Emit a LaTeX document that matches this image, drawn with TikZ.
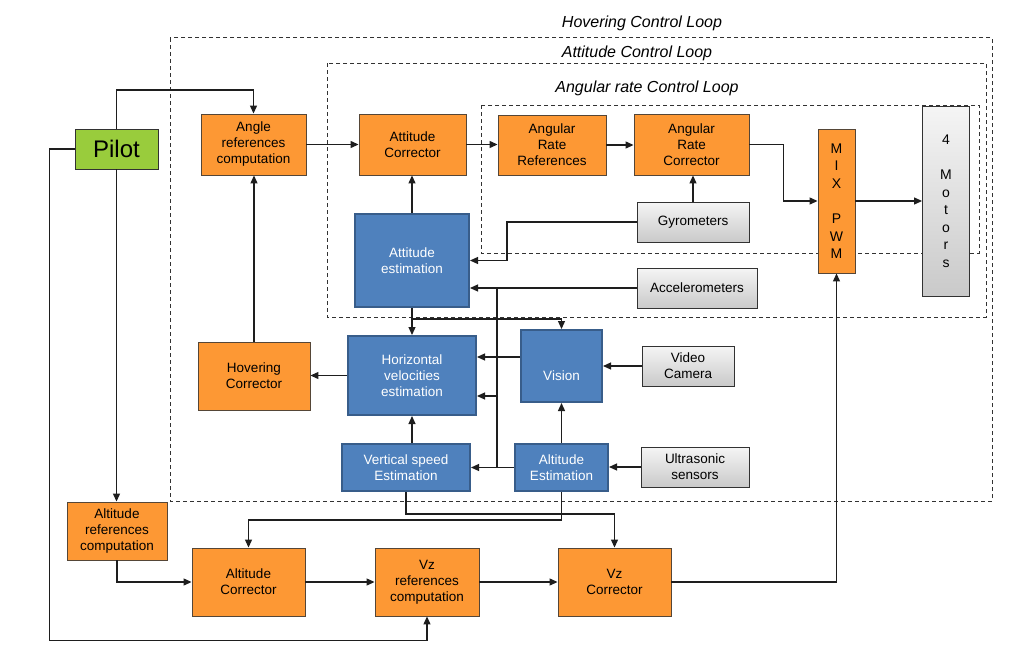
\documentclass[tikz,border=0pt]{standalone}
\usepackage{fontspec}
\setmainfont{Liberation Sans}
\usetikzlibrary{arrows.meta,calc}
\definecolor{orangefill}{RGB}{253,152,52}
\definecolor{orangeline}{RGB}{85,70,55}
\definecolor{bluefill}{RGB}{79,129,189}
\definecolor{blueline}{RGB}{56,93,138}
\definecolor{greenfill}{RGB}{153,204,60}
\definecolor{lineclr}{RGB}{30,30,30}
\definecolor{dashclr}{RGB}{50,50,50}
\definecolor{grayline}{RGB}{50,50,50}
\tikzset{
  box/.style={draw, line width=0.9pt, align=center, inner sep=0pt, font=\fontsize{13.5}{16}\selectfont},
  obox/.style={box, fill=orangefill, draw=orangeline},
  bbox/.style={box, fill=bluefill, draw=blueline, line width=2pt, text=white},
  gbox/.style={box, draw=grayline, top color=gray!8, bottom color=gray!42},
  pbox/.style={box, fill=greenfill, draw=grayline, font=\fontsize{24}{28}\selectfont},
  conn/.style={draw=lineclr, line width=1.2pt},
  arr/.style={conn, -{Triangle[length=8pt,width=7pt]}},
  loopbox/.style={draw=dashclr, line width=1pt, dash pattern=on 4pt off 3pt},
  looptitle/.style={font=\fontsize{16}{19}\selectfont\itshape}
}
\begin{document}
\begin{tikzpicture}[x=1pt,y=-1pt]
\fill[white] (0,0) rectangle (1032,661);
\useasboundingbox (0,0) rectangle (1032,661);

% loops
\draw[loopbox] (170,38) rectangle (992,501);
\draw[loopbox] (327,63) rectangle (986,317);
\draw[loopbox] (481,105) rectangle (979,253);
\node[looptitle] (t1) at (642,23) {Hovering Control Loop};
\node[looptitle] (t2) at (637,53) {Attitude Control Loop};
\node[looptitle] (t3) at (647,88) {Angular rate Control Loop};

% nodes
\node[pbox, minimum width=83pt, minimum height=40pt] (pilot) at (116.5,149) {Pilot};
\node[obox, minimum width=105pt, minimum height=61pt] (angref) at (253.5,144.5) {Angle\\references\\computation};
\node[obox, minimum width=107pt, minimum height=61pt] (attcor) at (412.5,144.5) {Attitude\\Corrector};
\node[obox, minimum width=108pt, minimum height=60pt] (arref) at (552,145) {Angular\\Rate\\References};
\node[obox, minimum width=115pt, minimum height=61pt] (arc) at (691.5,144.5) {Angular\\Rate\\Corrector};
\node[obox, minimum width=37pt, minimum height=144pt, font=\fontsize{14}{17.6}\selectfont] (mix) at (836.5,201) {M\\I\\X\\[17.6pt]P\\W\\M};
\node[gbox, minimum width=47pt, minimum height=190pt, font=\fontsize{14}{17.5}\selectfont] (motors) at (946,201) {4\\[17.5pt]M\\o\\t\\o\\r\\s};
\node[gbox, minimum width=112pt, minimum height=40pt] (gyro) at (693,222) {Gyrometers};
\node[gbox, minimum width=120pt, minimum height=40pt] (acc) at (697,288) {Accelerometers};
\node[bbox, minimum width=114pt, minimum height=93pt] (atte) at (412,260.5) {Attitude\\estimation};
\node[bbox, minimum width=128pt, minimum height=79pt] (hve) at (412,375.5) {Horizontal\\velocities\\estimation};
\node[bbox, minimum width=81pt, minimum height=72pt, text height=28pt, text depth=0pt] (vision) at (561.5,366) {Vision};
\node[gbox, minimum width=92pt, minimum height=40pt] (video) at (688,366) {Video\\Camera};
\node[obox, minimum width=112pt, minimum height=68pt] (hovcor) at (254,376) {Hovering\\Corrector};
\node[bbox, minimum width=128pt, minimum height=47pt] (vse) at (406,467.5) {Vertical speed\\Estimation};
\node[bbox, minimum width=93pt, minimum height=47pt] (alte) at (561.5,467.5) {Altitude\\Estimation};
\node[gbox, minimum width=108pt, minimum height=40pt] (ultra) at (695,467) {Ultrasonic\\sensors};
\node[obox, minimum width=100pt, minimum height=58pt] (altref) at (117,531) {Altitude\\references\\computation};
\node[obox, minimum width=113pt, minimum height=68pt] (altcor) at (248.5,582) {Altitude\\Corrector};
\node[obox, minimum width=104pt, minimum height=68pt] (vzref) at (427,582) {Vz\\references\\computation};
\node[obox, minimum width=113pt, minimum height=68pt] (vzcor) at (614.5,582) {Vz\\Corrector};

\coordinate (vinl) at ($(vision.west)+(0,-9)$);

% connectors
\draw[arr] (pilot.north) -- (pilot.north |- 0,90) -| (angref.north);
\draw[arr] (pilot.west) -- ++(-25,0) |- ($(vzref.south)+(0,24)$) -- (vzref.south);
\draw[arr] (pilot.south) -- (pilot.south |- altref.north);
\draw[arr] (altref.south) |- (altcor.west);
\draw[arr] (altcor.east) -- (vzref.west);
\draw[arr] (vzref.east) -- (vzcor.west);
\draw[arr] (vzcor.east) -| (mix.south);
\draw[arr] (angref.east) -- (attcor.west);
\draw[arr] (attcor.east) -- (attcor.east -| arref.west);
\draw[arr] (arref.east) -- (arref.east -| arc.west);
\draw[arr] (arc.east) -- ++(34,0) |- (mix.west);
\draw[arr] (mix.east) -- (motors.west);
\draw[arr] (gyro.north) -- (gyro.north |- arc.south);
\draw[arr] (gyro.west) -| ($(atte.east)+(37,0)$) -- (atte.east);
\draw[arr] (acc.west) -- (acc.west -| atte.east);
\draw[conn] (acc.west -| 497,0) -- (vse.east -| 497,0);
\draw[arr] ($(hve.east)+(21,20.5)$) -- ($(hve.east)+(0,20.5)$);
\draw[arr] (vinl) -- (vinl -| hve.east);
\draw[arr] (alte.west) -- (vse.east);
\draw[arr] (ultra.west) -- (ultra.west -| alte.east);
\draw[arr] (video.west) -- (vision.east);
\draw[arr] (alte.north) -- (vision.south);
\draw[arr] (hve.south |- vse.north) -- (hve.south);
\draw[arr] (atte.south) -- (hve.north);
\draw[arr] (atte.north) -- (atte.north |- attcor.south);
\draw[arr] ($(atte.south)+(0,11)$) -| (vision.north);
\draw[arr] (hve.west) -- (hve.west -| hovcor.east);
\draw[arr] (hovcor.north) -- (hovcor.north |- angref.south);
\draw[arr] (vse.south) -- ++(0,22) -| (vzcor.north);
\draw[arr] (alte.south) -- ++(0,28) -| (altcor.north);
\end{tikzpicture}
\end{document}
